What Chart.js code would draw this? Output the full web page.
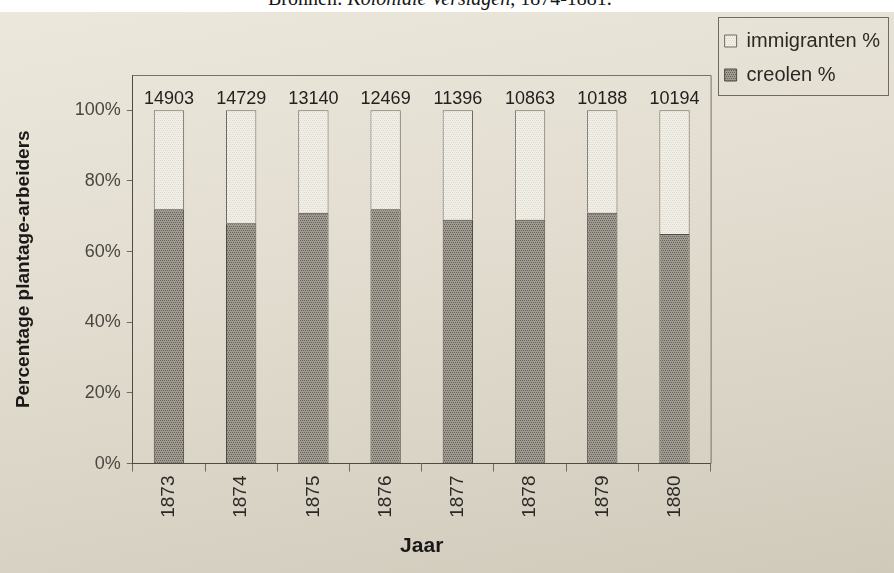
<!DOCTYPE html>
<html>
<head>
<meta charset="utf-8">
<script src="https://cdn.jsdelivr.net/npm/chart.js@4.4.0/dist/chart.umd.min.js"></script>
<style>
	html, body { margin: 0; padding: 0; }
	body {
		width: 894px; height: 573px; overflow: hidden; position: relative;
		background: linear-gradient(170deg, #ece8dc 0%, #e3ded1 40%, #d9d3c5 75%, #d0cabb 100%);
	}
	.caption {
		position: absolute; left: 0; top: 0; width: 894px; height: 12px;
		background: #fff; overflow: hidden;
	}
	.caption span {
		position: absolute; left: 268px; top: -12px; white-space: nowrap;
		font: 20px/20px "Liberation Serif", serif; color: #151515;
	}
	canvas { position: absolute; left: 0; top: 0; }
</style>
</head>
<body>
<div class="caption"><span>Bronnen: <i>Koloniale Verslagen</i>, 1874-1881.</span></div>
<canvas id="chart" width="894" height="573"></canvas>
<script type="text/javascript">
	// values
	let years = ["1873", "1874", "1875", "1876", "1877", "1878", "1879", "1880"]
	let totals = [14903, 14729, 13140, 12469, 11396, 10863, 10188, 10194]
	let creolen = [72, 68, 71, 72, 69, 69, 71, 65]
	let immigranten = [28, 32, 29, 28, 31, 31, 29, 35]
	let yTicks = [0, 20, 40, 60, 80, 100]

	Chart.defaults.font.family = "'Liberation Sans', Arial, sans-serif"

	// halftone-ish fill like the printed bars
	function dots(base, dot) {
		let c = document.createElement("canvas")
		c.width = 4
		c.height = 4
		let ctx = c.getContext("2d")
		ctx.fillStyle = base
		ctx.fillRect(0, 0, 4, 4)
		ctx.fillStyle = dot
		ctx.fillRect(0, 0, 1, 1)
		ctx.fillRect(2, 0, 1, 1)
		ctx.fillRect(1, 2, 1, 1)
		ctx.fillRect(3, 2, 1, 1)
		return ctx.createPattern(c, "repeat")
	}

	let frame = {
		id: "frame",
		beforeDatasetsDraw: function(chart) {
			let a = chart.chartArea
			let ctx = chart.ctx
			ctx.save()
			ctx.strokeStyle = "#77736b"
			ctx.lineWidth = 1
			ctx.beginPath()
			ctx.moveTo(a.left, a.top + 0.5)
			ctx.lineTo(a.right + 0.5, a.top + 0.5)
			ctx.lineTo(a.right + 0.5, a.bottom)
			ctx.stroke()
			ctx.restore()
		},
	}

	let totalLabels = {
		id: "totalLabels",
		afterDatasetsDraw: function(chart) {
			let meta = chart.getDatasetMeta(1)
			let ctx = chart.ctx
			ctx.save()
			ctx.font = "18px 'Liberation Sans', Arial, sans-serif"
			ctx.fillStyle = "#232120"
			ctx.textAlign = "center"
			ctx.textBaseline = "bottom"
			meta.data.forEach(function(bar, i) {
				ctx.fillText(String(totals[i]), bar.x, bar.y - 2)
			})
			ctx.restore()
		},
	}

	let legendBox = {
		id: "legendBox",
		afterDraw: function(chart) {
			let boxes = chart.legend.legendHitBoxes
			if(!boxes.length) return
			let left = Math.min.apply(null, boxes.map(b => b.left)) - 7
			let right = Math.max.apply(null, boxes.map(b => b.left + b.width)) + 8
			let top = boxes[0].top - 14
			let bottom = boxes[boxes.length - 1].top + boxes[boxes.length - 1].height + 10
			let ctx = chart.ctx
			ctx.save()
			ctx.strokeStyle = "#6f6b64"
			ctx.lineWidth = 1
			ctx.strokeRect(Math.round(left) + 0.5, Math.round(top) + 0.5, Math.round(right - left), Math.round(bottom - top))
			ctx.restore()
		},
	}

	let chart = new Chart(document.getElementById("chart"), {
		type: "bar",
		data: {
			labels: years,
			datasets: [{
				label: "creolen %",
				data: creolen,
				backgroundColor: dots("#a09b90", "#67635c"),
				borderColor: "#4e4a44",
				borderWidth: 1,
				barPercentage: 0.42,
				categoryPercentage: 1,
			}, {
				label: "immigranten %",
				data: immigranten,
				backgroundColor: dots("#f2efe6", "#dcd8ce"),
				borderColor: "#6e6a63",
				borderWidth: 1,
				barPercentage: 0.42,
				categoryPercentage: 1,
			}],
		},
		options: {
			responsive: false,
			animation: false,
			layout: {
				padding: { left: 8, right: 4, top: 17, bottom: 10 },
			},
			scales: {
				x: {
					stacked: true,
					grid: { drawOnChartArea: false, tickLength: 8, color: "#6f6b64" },
					border: { color: "#4e4a44" },
					ticks: {
						minRotation: 90,
						maxRotation: 90,
						padding: 4,
						color: "#2b2926",
						font: { size: 19 },
					},
					title: {
						display: true,
						text: "Jaar",
						color: "#1b1917",
						font: { size: 21, weight: "bold" },
						padding: { top: 12, bottom: 4 },
					},
				},
				y: {
					stacked: true,
					min: 0,
					max: 110,
					afterBuildTicks: function(axis) {
						axis.ticks = yTicks.map(v => ({ value: v }))
					},
					grid: { drawOnChartArea: false, tickLength: 6, color: "#6f6b64" },
					border: { color: "#4e4a44" },
					ticks: {
						padding: 6,
						color: "#4a4742",
						font: { size: 18 },
						callback: v => v + "%",
					},
					title: {
						display: true,
						text: "Percentage plantage-arbeiders",
						color: "#1b1917",
						font: { size: 19, weight: "bold" },
						padding: { top: 4, bottom: 34 },
					},
				},
			},
			plugins: {
				legend: {
					position: "right",
					align: "start",
					reverse: true,
					labels: {
						boxWidth: 12,
						boxHeight: 12,
						padding: 14,
						color: "#2b2926",
						font: { size: 20 },
					},
				},
				// empty spacer so the plot box starts lower than the legend
				title: {
					display: true,
					text: "",
					fullSize: false,
					font: { size: 10 },
					padding: { top: 0, bottom: 46 },
				},
				tooltip: { enabled: false },
			},
		},
		plugins: [frame, totalLabels, legendBox],
	})
</script>
</body>
</html>
